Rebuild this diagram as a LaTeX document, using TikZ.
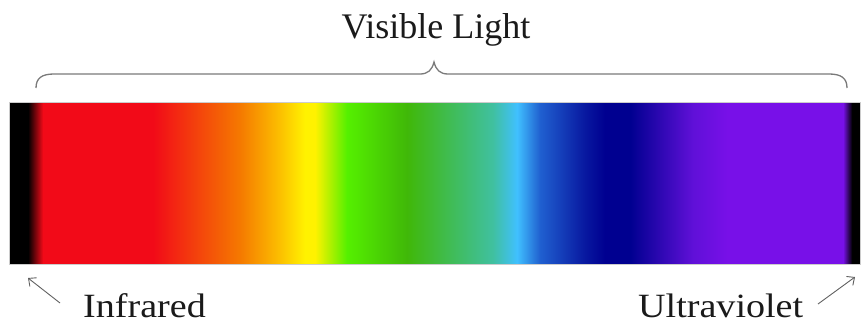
\documentclass[tikz,border=0pt]{standalone}
\usepackage{fontspec}
\setmainfont{Liberation Serif}
\newfontfamily\labfont[FakeStretch=1.12]{Liberation Serif}
\usetikzlibrary{arrows.meta}
\definecolor{specred}{HTML}{F20A18}
\definecolor{specorange}{HTML}{F57A00}
\definecolor{specgold}{HTML}{FCC000}
\definecolor{specyellow}{HTML}{FFF200}
\definecolor{speclime}{HTML}{55F000}
\definecolor{specgreen}{HTML}{40B808}
\definecolor{specteal}{HTML}{40C0A0}
\definecolor{speclblue}{HTML}{40C0FF}
\definecolor{specblue}{HTML}{2060D0}
\definecolor{specdblue}{HTML}{0818A0}
\definecolor{specnavy}{HTML}{000090}
\definecolor{specpurple}{HTML}{6010D8}
\definecolor{specviolet}{HTML}{7810E8}
\definecolor{bracegray}{HTML}{7A7A7A}
\definecolor{arrowgray}{HTML}{606060}
\definecolor{textblack}{HTML}{1A1A1A}
\pgfdeclarehorizontalshading{spectrum}{100bp}{
  color(0bp)=(black); color(25bp)=(black); color(26.12bp)=(black);
  color(27bp)=(specred); color(33.46bp)=(specred);
  color(38.6bp)=(specorange);
  color(40.92bp)=(specgold);
  color(42.39bp)=(specyellow); color(42.98bp)=(specyellow);
  color(44.86bp)=(speclime);
  color(48.38bp)=(specgreen);
  color(53.44bp)=(specteal);
  color(54.85bp)=(speclblue);
  color(56.2bp)=(specblue);
  color(58.84bp)=(specdblue);
  color(60.02bp)=(specnavy); color(61.49bp)=(specnavy);
  color(65.19bp)=(specpurple);
  color(67.19bp)=(specviolet); color(74bp)=(specviolet);
  color(74.53bp)=(black); color(75bp)=(black); color(100bp)=(black)}
\tikzset{
  lab/.style={inner sep=0pt, text=textblack, font=\labfont\fontsize{34}{40}\selectfont},
  title/.style={inner sep=0pt, text=textblack, font=\fontsize{36}{42}\selectfont},
  bracestyle/.style={draw=bracegray, line width=1.3pt},
  pointer/.style={draw=arrowgray, line width=0.9pt, -{Straight Barb[length=6pt,width=11pt]}},
  specbar/.style={shape=rectangle, inner sep=0pt, minimum width=851pt, minimum height=162pt, shading=spectrum, draw=gray!40, line width=0.4pt}
}
\begin{document}
\begin{tikzpicture}[x=1pt,y=-1pt]
\useasboundingbox (0,0) rectangle (861,324);
\node[specbar] (bar) at (434.5,183) {};
\node[title, anchor=base] (visible) at (436,38) {Visible Light};
\node[lab, anchor=base west] (infrared) at (83,317) {Infrared};
\node[lab, anchor=base west] (ultraviolet) at (638,317) {Ultraviolet};
\coordinate (braceL) at (36,88);
\coordinate (braceR) at (847,88);
\coordinate (braceTip) at (434,62);
\draw[bracestyle] (braceL) .. controls (36,78) and (42,74) .. (54,74) -- (420,74)
  .. controls (428,74) and (432,70) .. (braceTip)
  .. controls (436,70) and (440,74) .. (448,74) -- (829,74)
  .. controls (841,74) and (847,78) .. (braceR);
\coordinate (irS) at (60,303);
\coordinate (irE) at (28,278);
\coordinate (uvS) at (818,304);
\coordinate (uvE) at (855,277);
\draw[pointer] (irS) -- (irE);
\draw[pointer] (uvS) -- (uvE);
\end{tikzpicture}
\end{document}
